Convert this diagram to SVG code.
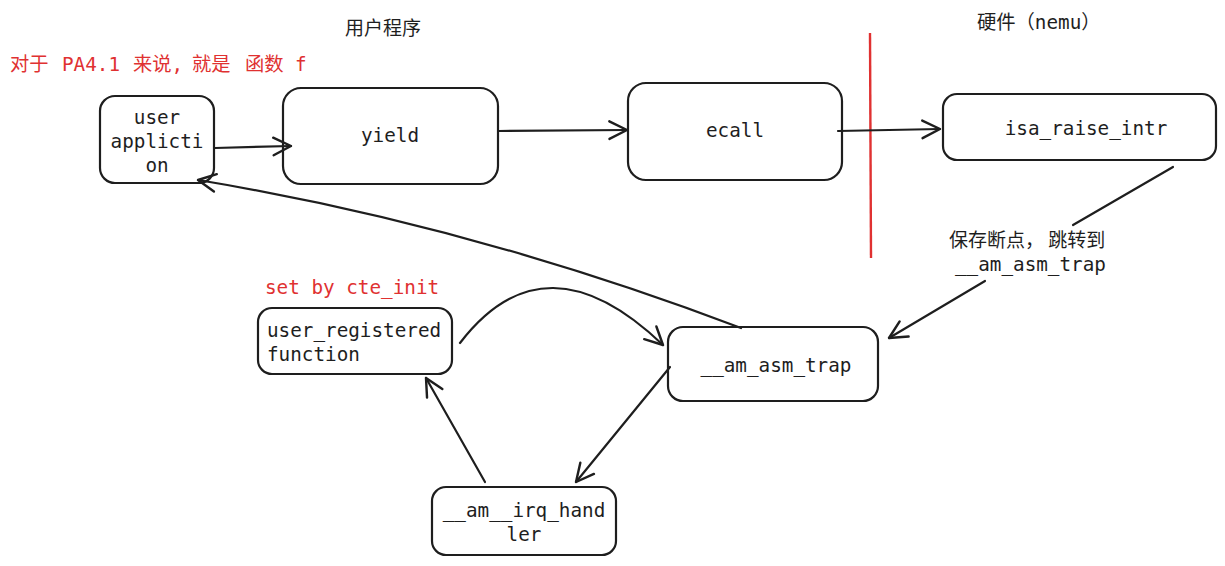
<svg xmlns="http://www.w3.org/2000/svg" width="1225" height="566" viewBox="0 0 1225 566">
<style>
.box{fill:#fff;stroke:#1e1e1e;stroke-width:2.2}
.t{font-family:"DejaVu Sans Mono","Liberation Mono","Noto Sans CJK SC",monospace;font-size:19.3px;fill:#1e1e1e}
.cn{font-family:"Noto Sans CJK SC","DejaVu Sans",sans-serif;font-size:19px;fill:#1e1e1e}
.red{font-family:"DejaVu Sans Mono","Noto Sans CJK SC",monospace;font-size:19.3px;fill:#e03131}
.c{fill:none;stroke:#1e1e1e;stroke-width:2.2;stroke-linecap:round}
</style>
<defs>
<marker id="a" markerUnits="userSpaceOnUse" markerWidth="22" markerHeight="22" viewBox="0 0 20 20" refX="18" refY="10" orient="auto">
<path d="M2,2 L18,10 L2,18" fill="none" stroke="#1e1e1e" stroke-width="2.2" stroke-linecap="round" stroke-linejoin="round"/>
</marker>
</defs>
<rect width="1225" height="566" fill="#fff"/>
<text class="cn" x="345" y="35">用户程序</text>
<text class="t" x="977" y="29">硬件（nemu）</text>
<text class="red" y="71"><tspan x="10">对于</tspan><tspan x="62">PA4.1</tspan><tspan x="133">来说,</tspan><tspan x="192">就是</tspan><tspan x="245">函数</tspan><tspan x="295">f</tspan></text>
<text class="red" x="265" y="294">set by cte_init</text>
<line x1="870" y1="33" x2="871" y2="258" stroke="#e03131" stroke-width="2.4"/>
<g id="n_user_app">
<rect class="box" x="100" y="96" width="114" height="87" rx="15"/>
<text class="t" text-anchor="middle" x="157" y="124">user</text>
<text class="t" text-anchor="middle" x="157" y="148">applicti</text>
<text class="t" text-anchor="middle" x="157" y="172">on</text>
</g>
<g id="n_yield">
<rect class="box" x="283" y="88" width="215" height="96" rx="18"/>
<text class="t" text-anchor="middle" x="390" y="142">yield</text>
</g>
<g id="n_ecall">
<rect class="box" x="628" y="83" width="214" height="97" rx="18"/>
<text class="t" text-anchor="middle" x="735" y="137">ecall</text>
</g>
<g id="n_isa">
<rect class="box" x="943" y="94" width="273" height="66" rx="14"/>
<text class="t" text-anchor="middle" x="1086" y="135">isa_raise_intr</text>
</g>
<g id="n_user_reg">
<rect class="box" x="258" y="308" width="194" height="66" rx="14"/>
<text class="t" x="267" y="337">user_registered</text>
<text class="t" x="267" y="361">function</text>
</g>
<g id="n_trap">
<rect class="box" x="668" y="327" width="210" height="74" rx="15"/>
<text class="t" text-anchor="middle" x="776" y="372">__am_asm_trap</text>
</g>
<g id="n_irq">
<rect class="box" x="432" y="487" width="184" height="68" rx="14"/>
<text class="t" text-anchor="middle" x="524" y="517">__am__irq_hand</text>
<text class="t" text-anchor="middle" x="524" y="541">ler</text>
</g>
<g id="connectors">
<path class="c" d="M215 148 L291 146" stroke-width="3" marker-end="url(#a)"/>
<path class="c" d="M499 131 L627 130" marker-end="url(#a)"/>
<path class="c" d="M838 131 L940 129" marker-end="url(#a)"/>
<path class="c" d="M1173 167 L1073 225"/>
<path class="c" d="M985 281 L889 338" marker-end="url(#a)"/>
<path class="c" d="M741 328 Q 470 225 198 180" stroke-width="3" marker-end="url(#a)"/>
<path class="c" d="M460 343 Q 545 232 663 345" stroke-width="2.6" marker-end="url(#a)"/>
<path class="c" d="M670 367 L576 482" marker-end="url(#a)"/>
<path class="c" d="M485 482 L426 378" stroke-width="2.6" marker-end="url(#a)"/>
<text class="cn" x="949" y="247">保存断点， 跳转到</text>
<text class="t" x="955" y="271">__am_asm_trap</text>
</g>
</svg>
